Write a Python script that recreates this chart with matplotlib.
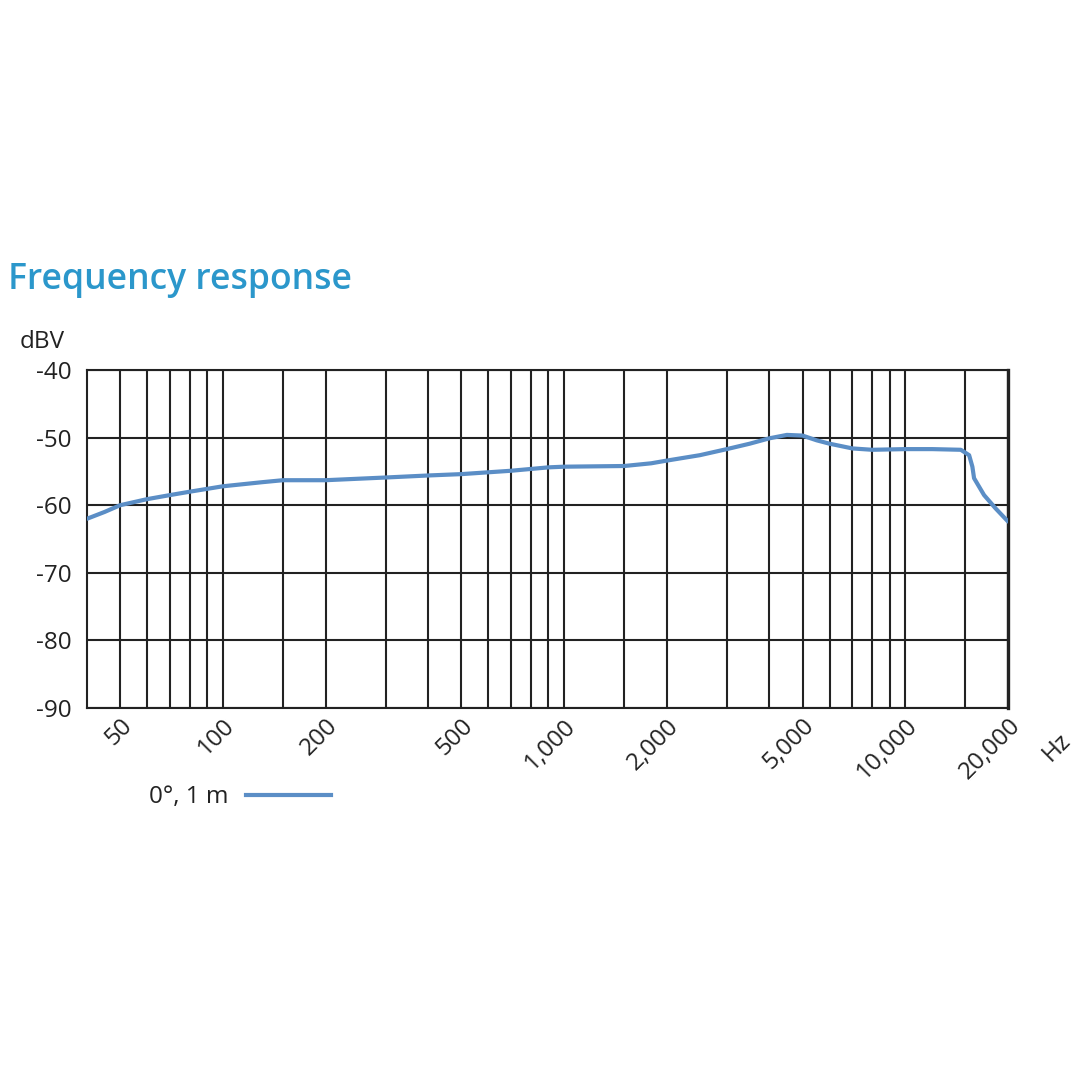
import matplotlib.pyplot as plt
import matplotlib.transforms as mtransforms
from matplotlib.lines import Line2D

plt.rcParams['font.family'] = ['Open Sans', 'DejaVu Sans']

# frequency response (0 deg, 1 m)
freq_hz = [40, 45, 50, 60, 70, 80, 100, 130, 150, 200, 300, 400, 500, 700, 900,
           1000, 1500, 1800, 2000, 2500, 3000, 3500, 4000, 4500, 5000, 5500, 6000,
           7000, 8000, 10000, 12000, 14550, 15390, 15730, 15910, 17020, 18420, 20000]
level_dbv = [-62.0, -61.0, -60.0, -59.1, -58.5, -58.0, -57.2, -56.6, -56.3, -56.3,
             -55.9, -55.6, -55.4, -54.9, -54.4, -54.3, -54.2, -53.8, -53.4, -52.6,
             -51.7, -50.9, -50.1, -49.6, -49.7, -50.4, -50.9, -51.6, -51.8, -51.7,
             -51.7, -51.8, -52.6, -54.3, -56.0, -58.5, -60.5, -62.4]

grid_freqs = [50, 60, 70, 80, 90, 100, 150, 200, 300, 400, 500, 600, 700, 800, 900,
              1000, 1500, 2000, 3000, 4000, 5000, 6000, 7000, 8000, 9000, 10000,
              15000, 20000]
label_freqs = [50, 100, 200, 500, 1000, 2000, 5000, 10000, 20000]
label_texts = ['50', '100', '200', '500', '1,000', '2,000', '5,000', '10,000', '20,000']
db_ticks = [-40, -50, -60, -70, -80, -90]

ink = '#222222'
curve_col = '#5b8ec6'
title_col = '#2b97cb'
fs = 17.5

fig = plt.figure(figsize=(10.8, 10.8), dpi=100)
ax = fig.add_axes([0.0806, 0.3444, 0.8527, 0.3130])

ax.set_xscale('log')
ax.set_xlim(40, 20000)
ax.set_ylim(-90, -40)

# grid
for f in grid_freqs:
    ax.axvline(f, color=ink, lw=1.5, zorder=1)
for d in db_ticks:
    ax.axhline(d, color=ink, lw=1.5, zorder=1)

ax.plot(freq_hz, level_dbv, color=curve_col, lw=3.0, zorder=3,
        solid_capstyle='round', solid_joinstyle='round')

for s in ax.spines.values():
    s.set_color(ink)
    s.set_linewidth(1.5)
ax.spines['right'].set_linewidth(2.4)

ax.set_yticks(db_ticks)
ax.set_yticklabels([str(d) for d in db_ticks], fontweight='medium')
ax.tick_params(axis='y', length=0, pad=11, labelsize=fs, labelcolor=ink)
ax.minorticks_off()
ax.set_xticks(label_freqs)
ax.set_xticklabels([])
ax.tick_params(axis='x', length=0)

# rotated frequency labels
offset = mtransforms.ScaledTranslation(0.17, -0.06, fig.dpi_scale_trans)
for f, t in zip(label_freqs, label_texts):
    ax.text(f, -90, t, rotation=45, ha='right', va='top', fontsize=fs,
            fontweight='medium', color=ink, transform=ax.transData + offset)
ax.text(1.033, -0.06, 'Hz', rotation=45, ha='left', va='top', fontsize=fs,
        fontweight='medium', color=ink, transform=ax.transAxes)

fig.text(0.007, 0.732, 'Frequency response', fontsize=25.6, fontweight='semibold',
         color=title_col, ha='left', va='baseline')
fig.text(0.018, 0.678, 'dBV', fontsize=fs, fontweight='medium', color=ink,
         ha='left', va='baseline')

handle = Line2D([], [], color=curve_col, lw=3.0)
fig.legend([handle], ['0°, 1 m'], loc='center left', bbox_to_anchor=(0.138, 0.262),
           frameon=False, markerfirst=False, handlelength=3.5, handletextpad=0.7,
           prop={'size': fs, 'weight': 'medium'}, labelcolor=ink,
           borderpad=0, borderaxespad=0)

fig.savefig('out.png', dpi=100, facecolor='white')
